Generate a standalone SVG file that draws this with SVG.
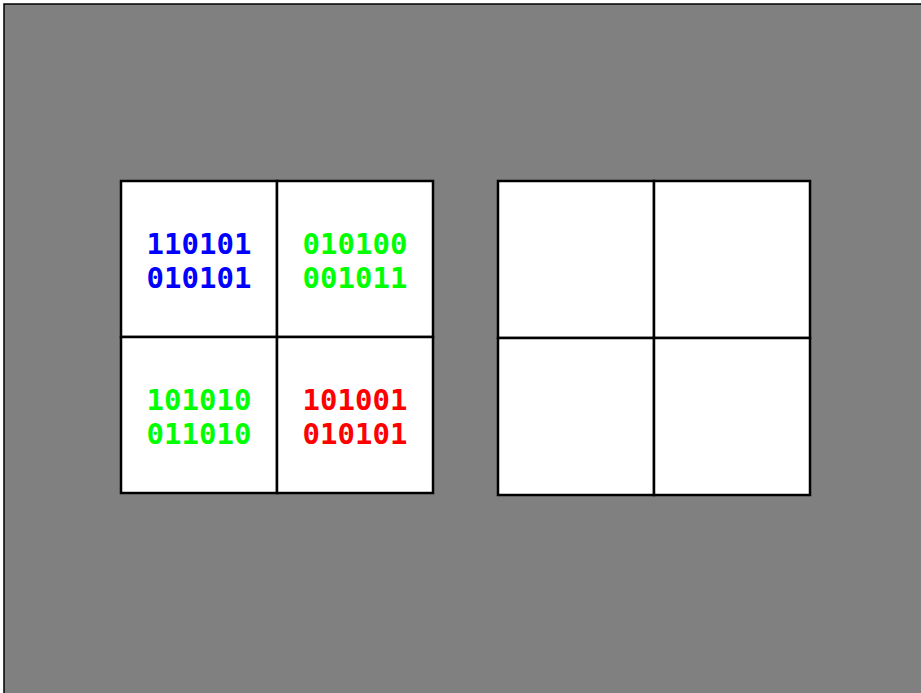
<svg xmlns="http://www.w3.org/2000/svg" width="921" height="693" viewBox="0 0 921 693">
<style>
.cell{fill:#fff;stroke:#000;stroke-width:2.5}
.t{font-family:"DejaVu Sans Mono","Liberation Mono",monospace;font-weight:bold;font-size:29px;text-anchor:middle}
</style>
<rect x="4" y="4" width="930" height="700" fill="#808080" stroke="#000" stroke-width="1.5"/>
<g id="left-grid">
<g id="cell-a"><rect class="cell" x="121" y="181" width="156" height="156"/>
<text class="t" fill="#0000ff"><tspan x="199" y="254">110101</tspan><tspan x="199" y="288">010101</tspan></text></g>
<g id="cell-b"><rect class="cell" x="277" y="181" width="156" height="156"/>
<text class="t" fill="#00ff00"><tspan x="355" y="254">010100</tspan><tspan x="355" y="288">001011</tspan></text></g>
<g id="cell-c"><rect class="cell" x="121" y="337" width="156" height="156"/>
<text class="t" fill="#00ff00"><tspan x="199" y="410">101010</tspan><tspan x="199" y="444">011010</tspan></text></g>
<g id="cell-d"><rect class="cell" x="277" y="337" width="156" height="156"/>
<text class="t" fill="#ff0000"><tspan x="355" y="410">101001</tspan><tspan x="355" y="444">010101</tspan></text></g>
</g>
<g id="right-grid">
<g id="cell-e"><rect class="cell" x="498" y="181" width="156" height="157"/></g>
<g id="cell-f"><rect class="cell" x="654" y="181" width="156" height="157"/></g>
<g id="cell-g"><rect class="cell" x="498" y="338" width="156" height="157"/></g>
<g id="cell-h"><rect class="cell" x="654" y="338" width="156" height="157"/></g>
</g>
<g id="connectors"/>
</svg>
